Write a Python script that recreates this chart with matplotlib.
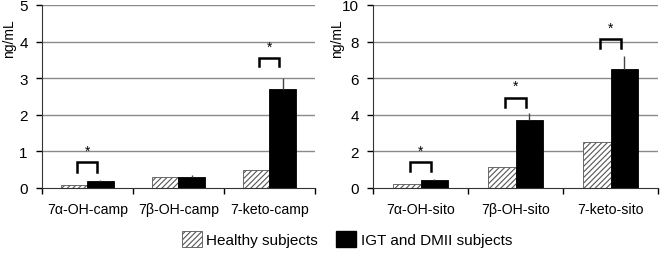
import matplotlib
matplotlib.use("Agg")
import matplotlib.pyplot as plt
import numpy as np
from matplotlib.patches import Patch

plt.rcParams['font.family'] = ['Liberation Sans', 'DejaVu Sans']
plt.rcParams['hatch.linewidth'] = 0.8

cats_camp = ["7α-OH-camp", "7β-OH-camp", "7-keto-camp"]
healthy_camp = [0.08, 0.29, 0.48]
igt_camp = [0.17, 0.30, 2.70]
igt_err_camp = [0.03, 0.05, 0.30]
sig_camp = [True, False, True]
bracket_camp = [(0.42, 0.70), None, (3.34, 3.55)]

cats_sito = ["7α-OH-sito", "7β-OH-sito", "7-keto-sito"]
healthy_sito = [0.22, 1.15, 2.50]
igt_sito = [0.40, 3.70, 6.50]
igt_err_sito = [0.05, 0.40, 0.70]
sig_sito = [True, True, True]
bracket_sito = [(0.90, 1.39), (4.40, 4.93), (7.65, 8.14)]

fig = plt.figure(figsize=(6.6, 2.55), dpi=100)
ax1 = fig.add_axes([41.7/660, (255-188.7)/255, (315-41.7)/660, 182.7/255])
ax2 = fig.add_axes([373/660, (255-188.7)/255, (658-373)/660, 182.7/255])

def draw(ax, cats, h, g, gerr, sig, br, ymax, step):
    x = np.arange(len(cats))
    w = 0.29
    ax.set_xlim(-0.5, len(cats) - 0.5)
    ax.set_ylim(0, ymax)
    ticks = np.arange(0, ymax + step/2, step)
    ax.set_yticks(ticks)
    ax.set_yticklabels([f"{t:g}" for t in ticks], fontsize=11)
    for t in ticks[1:]:
        ax.axhline(t, color='#8a8a8a', lw=1.0, zorder=0)
    ax.bar(x - w/2, h, w, color='white', edgecolor='#555555', hatch='//////', lw=0.6, zorder=2)
    ax.bar(x + w/2, g, w, color='black', edgecolor='black', lw=0.6, zorder=2)
    ax.errorbar(x + w/2, g, yerr=[np.zeros(len(g)), gerr], fmt='none',
                ecolor='#444444', elinewidth=1.0, capsize=0, zorder=3)
    for i, s in enumerate(sig):
        if s and br[i] is not None:
            b, t = br[i]
            hw = 0.11
            ax.plot([x[i]-hw, x[i]-hw, x[i]+hw, x[i]+hw], [b, t, t, b],
                    color='black', lw=1.8, zorder=3, solid_joinstyle='miter')
            ax.text(x[i], t + (ymax*0.025), '*', ha='center', va='bottom', fontsize=10)
    ax.set_xticks(x)
    ax.set_xticklabels(cats, fontsize=10.2)
    ax.tick_params(axis='x', length=0, pad=10)
    ax.set_xticks(np.arange(-0.5, len(cats), 1), minor=True)
    ax.tick_params(axis='x', which='minor', length=4, width=1, direction='out')
    ax.tick_params(axis='y', length=4, width=1, direction='out', pad=6)
    for sp in ['top', 'right']:
        ax.spines[sp].set_visible(False)
    ax.spines['left'].set_color('#333333')
    ax.spines['bottom'].set_color('#333333')
    ax.set_ylabel('ng/mL', fontsize=10)

draw(ax1, cats_camp, healthy_camp, igt_camp, igt_err_camp, sig_camp, bracket_camp, 5, 1)
draw(ax2, cats_sito, healthy_sito, igt_sito, igt_err_sito, sig_sito, bracket_sito, 10, 2)
ax1.yaxis.set_label_coords(-0.095, 0.82)
ax2.yaxis.set_label_coords(-0.100, 0.82)

handles = [Patch(facecolor='white', edgecolor='#555555', hatch='//////', lw=0.6, label='Healthy subjects'),
           Patch(facecolor='black', edgecolor='black', label='IGT and DMII subjects')]
fig.legend(handles=handles, loc='center', bbox_to_anchor=(347/660, 1 - 240/255), ncol=2,
           frameon=False, fontsize=11, handlelength=1.3, handleheight=1.25,
           columnspacing=1.2, handletextpad=0.3)

fig.savefig('out.png', dpi=100)
